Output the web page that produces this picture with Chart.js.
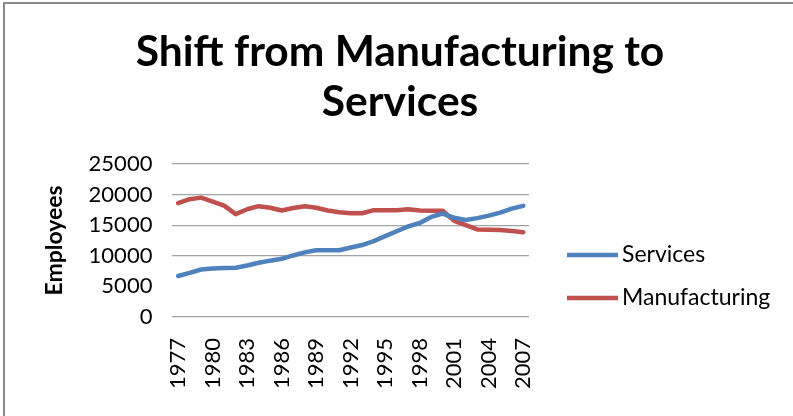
<!DOCTYPE html>
<html>
<head>
<meta charset="utf-8">
<script src="https://cdn.jsdelivr.net/npm/chart.js@4/dist/chart.umd.min.js"></script>
<style>
  html, body { margin: 0; padding: 0; background: #fff; }
  #wrap { position: relative; width: 793px; height: 416px; overflow: hidden; }
  #c { position: absolute; left: 0; top: 0; }
  #frame { position: absolute; left: 3px; top: 2px; right: 0; bottom: 0;
           border-top: 2px solid #8a8a8a; border-left: 2px solid #8a8a8a; pointer-events: none; }
</style>
</head>
<body>
<div id="wrap">
  <canvas id="c" width="793" height="416"></canvas>
  <div id="frame"></div>
</div>
<script>
const years = ['1977','1978','1979','1980','1981','1982','1983','1984','1985','1986',
               '1987','1988','1989','1990','1991','1992','1993','1994','1995','1996',
               '1997','1998','1999','2000','2001','2002','2003','2004','2005','2006','2007'];
const services = [6700, 7200, 7750, 7900, 8000, 8050, 8400, 8850, 9200, 9500,
                  10050, 10550, 10900, 10900, 10900, 11350, 11750, 12400, 13200, 14000,
                  14800, 15350, 16350, 16900, 16200, 15850, 16150, 16550, 17050, 17700, 18150];
const manufacturing = [18600, 19250, 19500, 18850, 18200, 16800, 17600, 18100, 17850, 17400,
                       17800, 18100, 17850, 17400, 17100, 16950, 16950, 17450, 17450, 17450,
                       17600, 17400, 17350, 17350, 15700, 15000, 14300, 14250, 14200, 14050, 13850];
const seriesNames = ['Services', 'Manufacturing'];
const seriesColors = ['#4F81BD', '#C0504D'];
const titleLines = ['Shift from Manufacturing to', 'Services'];
const yTitle = 'Employees';
const yMin = 0, yMax = 25000, yStep = 5000;
const hiddenGridValues = [5000];

const FONT = 'Lato, "Open Sans", sans-serif';
const LINE_W = 4.5;

// Legend drawn beside the plot (Excel-style), from the datasets themselves
const sideLegend = {
  id: 'sideLegend',
  afterLayout(chart) {
    // centre the title over the whole canvas, not just the area left of the legend
    if (chart.titleBlock) {
      chart.titleBlock.left = 7;
      chart.titleBlock.right = chart.width;
      chart.titleBlock.width = chart.width - 7;
    }
  },
  afterDraw(chart) {
    const { ctx, chartArea } = chart;
    const x0 = chartArea.right + 38;
    chart.data.datasets.forEach((ds, i) => {
      const y = chartArea.top + 91 + i * 43;
      ctx.save();
      ctx.strokeStyle = ds.borderColor;
      ctx.lineWidth = LINE_W;
      ctx.lineCap = 'butt';
      ctx.beginPath();
      ctx.moveTo(x0, y);
      ctx.lineTo(x0 + 51, y);
      ctx.stroke();
      ctx.fillStyle = '#000';
      ctx.font = '23px ' + FONT;
      ctx.textBaseline = 'middle';
      ctx.textAlign = 'left';
      ctx.fillText(ds.label, x0 + 55, y);
      ctx.restore();
    });
  }
};

new Chart(document.getElementById('c'), {
  type: 'line',
  data: {
    labels: years,
    datasets: [
      { label: seriesNames[0], data: services, borderColor: seriesColors[0], backgroundColor: seriesColors[0],
        borderWidth: LINE_W, pointRadius: 0, tension: 0, borderCapStyle: 'round', borderJoinStyle: 'round' },
      { label: seriesNames[1], data: manufacturing, borderColor: seriesColors[1], backgroundColor: seriesColors[1],
        borderWidth: LINE_W, pointRadius: 0, tension: 0, borderCapStyle: 'round', borderJoinStyle: 'round' }
    ]
  },
  plugins: [sideLegend],
  options: {
    responsive: false,
    animation: false,
    devicePixelRatio: 1,
    layout: { padding: { left: 41, right: 264, top: 0, bottom: 6 } },
    plugins: {
      title: {
        display: true,
        text: titleLines,
        color: '#000',
        font: { family: FONT, size: 42.5, weight: 'bold', lineHeight: 1.176 },
        padding: { top: 27, bottom: 37 }
      },
      legend: { display: false },
      tooltip: { enabled: false }
    },
    scales: {
      x: {
        type: 'category',
        offset: true,
        grid: { display: false, drawTicks: false },
        border: { display: false },
        ticks: {
          autoSkip: false,
          minRotation: 90,
          maxRotation: 90,
          padding: 21,
          color: '#000',
          font: { family: FONT, size: 22 },
          callback: function (val, idx) { return idx % 3 === 0 ? this.getLabelForValue(val) : ''; }
        }
      },
      y: {
        min: yMin, max: yMax,
        grid: {
          drawTicks: false,
          lineWidth: 1.2,
          color: (ctx) => (ctx.tick && hiddenGridValues.includes(ctx.tick.value)) ? 'rgba(0,0,0,0)' : '#a3a3a3'
        },
        border: { display: false },
        ticks: {
          stepSize: yStep,
          autoSkip: false,
          padding: 20,
          color: '#000',
          font: { family: FONT, size: 22 },
          callback: (v) => String(v)
        },
        title: {
          display: true,
          text: yTitle,
          color: '#000',
          font: { family: FONT, size: 23, weight: 'bold', lineHeight: 1.2 },
          padding: { top: 0, bottom: 0 }
        }
      }
    }
  }
});
</script>
</body>
</html>
